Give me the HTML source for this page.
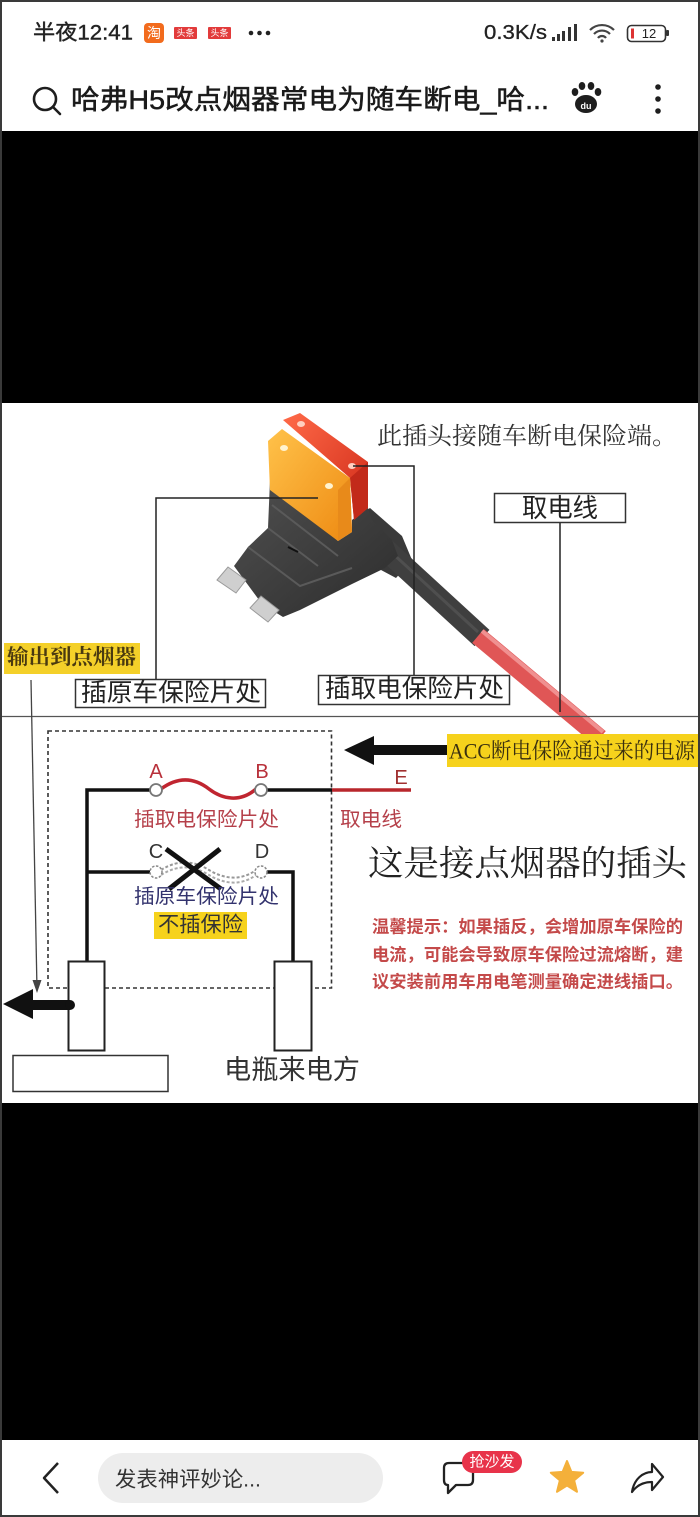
<!DOCTYPE html>
<html><head><meta charset="utf-8"><style>
html,body{margin:0;padding:0;background:#fff;}
body{width:700px;height:1517px;overflow:hidden;position:relative;}
svg{position:absolute;left:0;top:0;}
.s{font-family:"Liberation Sans","Noto Sans CJK SC",sans-serif;}
.r{font-family:"Liberation Serif","Noto Serif CJK SC",serif;}
</style></head><body>
<svg width="700" height="1517" viewBox="0 0 700 1517" xmlns="http://www.w3.org/2000/svg">
<defs>
<linearGradient id="og" x1="0" y1="0" x2="1" y2="1"><stop offset="0" stop-color="#ffc24a"/><stop offset="1" stop-color="#ee8a12"/></linearGradient>
<linearGradient id="rg" x1="0" y1="0" x2="1" y2="1"><stop offset="0" stop-color="#ff6a48"/><stop offset="1" stop-color="#cf2a18"/></linearGradient>
<linearGradient id="bg" x1="0" y1="0" x2="1" y2="1"><stop offset="0" stop-color="#505050"/><stop offset="1" stop-color="#2c2c2c"/></linearGradient>
</defs>
<rect x="0" y="0" width="700" height="1517" fill="#fff"/>
<!-- status bar -->
<g class="s">
<text x="33" y="33" dominant-baseline="central" font-size="21" fill="#222" stroke="#222" stroke-width="0.4" textLength="100" lengthAdjust="spacingAndGlyphs">半夜12:41</text>
<rect x="144" y="23" width="20" height="20" rx="4" fill="#f26b1d"/>
<text x="154" y="33" dominant-baseline="central" text-anchor="middle" font-size="14" fill="#fff">淘</text>
<rect x="174" y="27" width="23" height="12" rx="1" fill="#e23b3b"/>
<text x="185.5" y="33" dominant-baseline="central" text-anchor="middle" font-size="9" fill="#fff">头条</text>
<rect x="208" y="27" width="23" height="12" rx="1" fill="#e23b3b"/>
<text x="219.5" y="33" dominant-baseline="central" text-anchor="middle" font-size="9" fill="#fff">头条</text>
<circle cx="251" cy="33" r="2.3" fill="#222"/><circle cx="259.5" cy="33" r="2.3" fill="#222"/><circle cx="268" cy="33" r="2.3" fill="#222"/>
<text x="484" y="33" dominant-baseline="central" font-size="20" fill="#222" stroke="#222" stroke-width="0.3" textLength="63" lengthAdjust="spacingAndGlyphs">0.3K/s</text>
<rect x="552" y="37" width="3" height="4" fill="#333"/><rect x="557" y="34" width="3" height="7" fill="#333"/><rect x="562" y="31" width="3" height="10" fill="#333"/><rect x="568" y="27" width="3" height="14" fill="#333"/><rect x="574" y="24" width="3" height="17" fill="#333"/>
<path d="M590,30 A17,17 0 0 1 614,30" stroke="#444" stroke-width="2.2" fill="none"/>
<path d="M594,34 A11,11 0 0 1 610,34" stroke="#444" stroke-width="2.2" fill="none"/>
<path d="M598,38 A5,5 0 0 1 606,38" stroke="#444" stroke-width="2.2" fill="none"/>
<circle cx="602" cy="41" r="1.6" fill="#444"/>
<rect x="627.5" y="25.5" width="38" height="16" rx="4" stroke="#333" stroke-width="1.6" fill="none"/>
<rect x="666" y="30" width="3" height="6" rx="1" fill="#333"/>
<rect x="631" y="28.5" width="3" height="10" fill="#d33"/>
<text x="649" y="33.5" dominant-baseline="central" text-anchor="middle" font-size="13" fill="#222">12</text>
</g>
<!-- title bar -->
<circle cx="45" cy="99" r="11" stroke="#1e1e1e" stroke-width="2.6" fill="none"/>
<line x1="53" y1="107" x2="60" y2="114" stroke="#1e1e1e" stroke-width="2.6" stroke-linecap="round"/>
<text class="s" x="71" y="100" dominant-baseline="central" font-size="27" fill="#1a1a1a" stroke="#1a1a1a" stroke-width="0.5" textLength="478" lengthAdjust="spacingAndGlyphs">哈弗H5改点烟器常电为随车断电_哈...</text>
<g fill="#1e1e1e">
<ellipse cx="586" cy="104" rx="11" ry="9"/>
<ellipse cx="575" cy="92" rx="3.3" ry="4"/><ellipse cx="582" cy="86" rx="3.3" ry="4"/><ellipse cx="591" cy="86" rx="3.3" ry="4"/><ellipse cx="598" cy="92" rx="3.3" ry="4"/>
</g>
<text class="s" x="586" y="106" dominant-baseline="central" text-anchor="middle" font-size="9" fill="#fff" font-weight="bold">du</text>
<circle cx="658" cy="87" r="2.8" fill="#1e1e1e"/><circle cx="658" cy="99" r="2.8" fill="#1e1e1e"/><circle cx="658" cy="111" r="2.8" fill="#1e1e1e"/>
<!-- black bands -->
<rect x="0" y="131" width="700" height="272" fill="#000"/>
<rect x="0" y="1103" width="700" height="337" fill="#000"/>

<!-- ===== top diagram ===== -->
<text class="r" x="377" y="437" dominant-baseline="central" font-size="24" fill="#333" textLength="300" lengthAdjust="spacingAndGlyphs">此插头接随车断电保险端。</text>
<!-- fuse photo -->
<polygon points="352,520 370,508 402,536 412,560 396,578 366,562" fill="#3a3a3a"/>
<line x1="384" y1="548" x2="482" y2="638" stroke="#3f3f3f" stroke-width="22"/>
<line x1="378" y1="540" x2="478" y2="632" stroke="#5a5a5a" stroke-width="3" opacity="0.6"/>
<line x1="478" y1="636" x2="600" y2="738" stroke="#e05656" stroke-width="18"/>
<line x1="482" y1="631" x2="603" y2="732" stroke="#f09090" stroke-width="4"/>
<polygon points="270,480 338,541 352,532 352,520 368,508 372,520 392,540 398,556 385,568 352,584 300,610 283,617 262,604 234,566 248,547 268,528" fill="url(#bg)"/>
<path d="M272,505 L338,556 M248,547 L300,586 L352,568 M268,528 L318,566" stroke="#5a5a5a" stroke-width="2" fill="none"/>
<line x1="288" y1="547" x2="298" y2="552" stroke="#111" stroke-width="2"/>
<polygon points="217,580 228,567 246,580 236,593" fill="#cfcfcf" stroke="#9a9a9a" stroke-width="1"/>
<polygon points="250,608 261,596 279,610 268,622" fill="#cfcfcf" stroke="#9a9a9a" stroke-width="1"/>
<polygon points="283,420 300,413 368,462 368,508 354,520 350,478" fill="url(#rg)"/>
<polygon points="350,478 368,462 368,508 354,520" fill="#c22a1a"/>
<polygon points="268,441 282,429 350,478 352,532 338,541 270,490" fill="url(#og)"/>
<polygon points="338,490 350,478 352,532 338,541" fill="#e88a1a"/>
<ellipse cx="284" cy="448" rx="4" ry="3" fill="#fff3d0"/>
<ellipse cx="329" cy="486" rx="4" ry="3" fill="#fff3d0"/>
<ellipse cx="301" cy="424" rx="4" ry="3" fill="#ffd0c0"/>
<ellipse cx="352" cy="466" rx="4" ry="3" fill="#ffd0c0"/>
<!-- leader lines -->
<g stroke="#222" stroke-width="1.5" fill="none">
<polyline points="318,498 156,498 156,679"/>
<polyline points="353,466 414,466 414,675"/>
<line x1="560" y1="523" x2="560" y2="712"/>
</g>
<rect x="494.5" y="493.5" width="131" height="29" fill="#fff" stroke="#333" stroke-width="1.5"/>
<text class="s" x="522" y="508" dominant-baseline="central" font-size="26" fill="#222" textLength="76" lengthAdjust="spacingAndGlyphs">取电线</text>
<rect x="75.5" y="679.5" width="190" height="28" fill="#fff" stroke="#333" stroke-width="1.5"/>
<text class="s" x="81" y="693" dominant-baseline="central" font-size="25" fill="#222" textLength="180" lengthAdjust="spacingAndGlyphs">插原车保险片处</text>
<rect x="318.5" y="675.5" width="191" height="29" fill="#fff" stroke="#333" stroke-width="1.5"/>
<text class="s" x="325" y="689" dominant-baseline="central" font-size="25" fill="#222" textLength="179" lengthAdjust="spacingAndGlyphs">插取电保险片处</text>
<rect x="4" y="643" width="136" height="31" fill="#f4d029"/>
<text class="r" x="7" y="657" dominant-baseline="central" font-size="21" fill="#4a3a10" font-weight="bold" textLength="129" lengthAdjust="spacingAndGlyphs">输出到点烟器</text>
<line x1="0" y1="716.5" x2="700" y2="716.5" stroke="#555" stroke-width="1.3"/>
<line x1="31" y1="680" x2="37" y2="990" stroke="#444" stroke-width="1.3"/>
<polygon points="32.5,980 41.5,980 37,993" fill="#444"/>

<!-- ===== lower circuit ===== -->
<rect x="48" y="731" width="283.5" height="257" fill="none" stroke="#333" stroke-width="1.6" stroke-dasharray="4 3"/>
<polygon points="344,750 374,736 374,745 447,745 447,755 374,755 374,765" fill="#111"/>
<rect x="447" y="734" width="252" height="33" fill="#f6d21c"/>
<text class="r" x="449" y="751" dominant-baseline="central" font-size="22" fill="#3a3010" textLength="246" lengthAdjust="spacingAndGlyphs">ACC断电保险通过来的电源</text>

<g stroke="#111" stroke-width="3.5" fill="none">
<polyline points="150,790 87,790 87,962"/>
<line x1="267" y1="790" x2="332" y2="790"/>
<polyline points="150,872 87,872"/>
<polyline points="267,872 293,872 293,962"/>
</g>
<line x1="332" y1="790" x2="411" y2="790" stroke="#b8262c" stroke-width="3.5"/>
<path d="M161,789 C180,775 196,779 209,789 S240,803 256,789" stroke="#c02530" stroke-width="3.5" fill="none"/>
<path d="M161,870 C180,858 196,862 209,870 S240,882 256,870" stroke="#999" stroke-width="2" stroke-dasharray="3 2" fill="none"/>
<path d="M161,875 C180,863 196,867 209,875 S240,887 256,875" stroke="#aaa" stroke-width="2" stroke-dasharray="3 2" fill="none"/>
<circle cx="156" cy="790" r="6" fill="#fff" stroke="#777" stroke-width="1.8"/>
<circle cx="261" cy="790" r="6" fill="#fff" stroke="#777" stroke-width="1.8"/>
<circle cx="156" cy="872" r="6" fill="#fff" stroke="#888" stroke-width="1.5" stroke-dasharray="2.5 1.5"/>
<circle cx="261" cy="872" r="6" fill="#fff" stroke="#888" stroke-width="1.5" stroke-dasharray="2.5 1.5"/>
<g class="s" font-size="20" dominant-baseline="central" text-anchor="middle">
<text x="156" y="772" fill="#b8303a">A</text>
<text x="262" y="772" fill="#b8303a">B</text>
<text x="401" y="778" fill="#a03030">E</text>
<text x="156" y="852" fill="#333">C</text>
<text x="262" y="852" fill="#333">D</text>
</g>
<g stroke="#111" stroke-width="5" stroke-linecap="butt">
<line x1="166" y1="849" x2="221" y2="889"/>
<line x1="220" y1="849" x2="169" y2="889"/>
</g>
<text class="s" x="134" y="820" dominant-baseline="central" font-size="20" fill="#b5404a" textLength="145" lengthAdjust="spacingAndGlyphs">插取电保险片处</text>
<text class="s" x="340" y="820" dominant-baseline="central" font-size="20" fill="#b5404a" textLength="62" lengthAdjust="spacingAndGlyphs">取电线</text>
<text class="s" x="134" y="897" dominant-baseline="central" font-size="20" fill="#33336e" textLength="145" lengthAdjust="spacingAndGlyphs">插原车保险片处</text>
<rect x="154" y="912" width="93" height="27" fill="#f6d21c"/>
<text class="s" x="158" y="925" dominant-baseline="central" font-size="21" fill="#333" textLength="85" lengthAdjust="spacingAndGlyphs">不插保险</text>

<rect x="68.5" y="961.5" width="36" height="89" fill="#fff" stroke="#222" stroke-width="2"/>
<rect x="274.5" y="961.5" width="37" height="89" fill="#fff" stroke="#222" stroke-width="2"/>
<polygon points="3,1004 33,989 33,1000 70,1000 70,1010 33,1010 33,1019" fill="#111"/>
<circle cx="70" cy="1005" r="5" fill="#111"/>
<rect x="13" y="1055.5" width="155" height="36" fill="#fff" stroke="#333" stroke-width="1.5"/>
<text class="s" x="224" y="1070" dominant-baseline="central" font-size="27" fill="#333" textLength="136" lengthAdjust="spacingAndGlyphs">电瓶来电方</text>

<text class="r" x="368" y="864" dominant-baseline="central" font-size="35" fill="#222" textLength="319" lengthAdjust="spacingAndGlyphs">这是接点烟器的插头</text>
<g class="s" font-size="17" font-weight="bold" fill="#c44a4a" dominant-baseline="central">
<text x="372" y="927" textLength="311" lengthAdjust="spacingAndGlyphs">温馨提示：如果插反，会增加原车保险的</text>
<text x="372" y="955" textLength="311" lengthAdjust="spacingAndGlyphs">电流，可能会导致原车保险过流熔断，建</text>
<text x="372" y="982" textLength="311" lengthAdjust="spacingAndGlyphs">议安装前用车用电笔测量确定进线插口。</text>
</g>

<!-- bottom bar -->
<polyline points="58,1463 44,1478 58,1493" stroke="#222" stroke-width="2.5" fill="none" stroke-linejoin="round"/>
<rect x="98" y="1453" width="285" height="50" rx="25" fill="#ededed"/>
<text class="s" x="115" y="1480" dominant-baseline="central" font-size="21" fill="#333" textLength="146" lengthAdjust="spacingAndGlyphs">发表神评妙论...</text>
<path d="M449,1463 H468 Q473,1463 473,1468 V1480 Q473,1485 468,1485 H456 L448,1493 V1485 Q444,1485 444,1480 V1468 Q444,1463 449,1463 Z" stroke="#222" stroke-width="2.3" fill="none" stroke-linejoin="round"/>
<rect x="462" y="1451" width="60" height="22" rx="11" fill="#e8334a"/>
<text class="s" x="492" y="1462" dominant-baseline="central" text-anchor="middle" font-size="15" fill="#fff">抢沙发</text>
<polygon points="567,1461 571.4,1471.9 583.2,1472.7 574.1,1480.3 577,1491.8 567,1485.5 557,1491.8 559.9,1480.3 550.8,1472.7 562.6,1471.9" fill="#f4b03a" stroke="#f4b03a" stroke-width="2" stroke-linejoin="round"/>
<path d="M632,1492 C634,1479 643,1472 652,1472 L652,1464 L663,1477 L652,1490 L652,1482 C644,1482 637,1485 632,1492 Z" stroke="#222" stroke-width="2.2" fill="none" stroke-linejoin="round"/>

<!-- outer frame -->
<rect x="1" y="1" width="698" height="1515" fill="none" stroke="#3a3a3a" stroke-width="2"/>
</svg>
</body></html>
